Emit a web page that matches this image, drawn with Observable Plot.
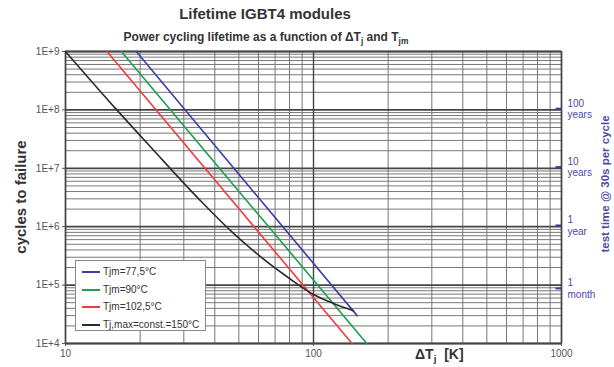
<!DOCTYPE html>
<html>
<head>
<meta charset="utf-8">
<script src="https://cdn.jsdelivr.net/npm/d3@7"></script>
<script src="https://cdn.jsdelivr.net/npm/@observablehq/plot@0.6"></script>
<style>
  html, body { margin: 0; padding: 0; background: #fff; }
  #wrap { position: relative; width: 614px; height: 367px; font-family: "Liberation Sans", Arial, sans-serif; overflow: hidden; }
  #wrap svg { position: absolute; left: 0; top: 0; }
  .abs { position: absolute; white-space: nowrap; }
  .title { left: 0; width: 530px; text-align: center; top: 5px; font-size: 15px; font-weight: bold; color: #333; }
  .subtitle { left: 0; width: 532px; text-align: center; top: 30px; font-size: 12px; font-weight: bold; color: #333; }
  sub { font-size: 70%; vertical-align: -3px; line-height: 0; }
  .ylab { left: 20px; top: 197px; transform: translate(-50%, -50%) rotate(-90deg); font-size: 15px; font-weight: bold; color: #333; }
  .rlab { left: 605px; top: 184px; transform: translate(-50%, -50%) rotate(-90deg); font-size: 11.5px; font-weight: bold; color: #4a4aa8; }
  .xlab { left: 415px; top: 346px; font-size: 14px; font-weight: bold; color: #333; }
  .legend { left: 75px; top: 260px; width: 131px; height: 71px; border: 1px solid #888; background: #fff; box-sizing: border-box; }
  .row { position: absolute; left: 0; height: 14px; font-size: 10px; color: #333; line-height: 14px; }
  .sw { position: absolute; left: 6px; top: 6px; width: 18px; height: 0; border-top: 2px solid; }
  .lt { position: absolute; left: 27px; top: 0; }
</style>
</head>
<body>
<div id="wrap"></div>
<script>
// ---- data ----
const seriesNames = ["Tjm=77,5°C", "Tjm=90°C", "Tjm=102,5°C", "Tj,max=const.=150°C"];
const seriesColors = ["#3d3da6", "#1d9e50", "#f03a3e", "#2b2b2b"];

const blueDT = [19.3, 150];
const blueN = [1e9, 3.0e4];
const greenDT = [16.8, 164];
const greenN = [1e9, 1e4];
const redDT = [14.7, 143];
const redN = [1e9, 1e4];
const blackDT = [10, 16.1, 22, 35, 46.3, 58.4, 80.8, 100, 120.4, 145];
const blackN = [1e9, 1e8, 2.34e7, 2.79e6, 8.55e5, 3.59e5, 1.26e5, 6.9e4, 4.84e4, 3.65e4];

const xTicks = [10, 100, 1000];
const yTicks = [1e4, 1e5, 1e6, 1e7, 1e8, 1e9];

// right axis: test time @ 30 s per cycle
const rightN = [1.05e8, 1.05e7, 1.05e6, 8.77e4];
const rightNum = ["100", "10", "1", "1"];
const rightUnit = ["years", "years", "year", "month"];

// ---- build tables ----
const seriesDT = [blueDT, greenDT, redDT, blackDT];
const seriesN = [blueN, greenN, redN, blackN];
const rows = [];
seriesNames.forEach((s, i) => seriesDT[i].forEach((dt, j) => rows.push({s, dT: dt, N: seriesN[i][j]})));

const xMinor = [];
for (let k = 0; k < xTicks.length - 1; k++) for (let m = 2; m <= 9; m++) xMinor.push(m * xTicks[k]);
const yMinor = [];
for (let k = 0; k < yTicks.length - 1; k++) for (let m = 2; m <= 9; m++) yMinor.push(m * yTicks[k]);

const chart = Plot.plot({
  width: 614,
  height: 367,
  marginLeft: 65,
  marginRight: 53,
  marginTop: 51,
  marginBottom: 24,
  x: {type: "log", domain: [10, 1000]},
  y: {type: "log", domain: [1e4, 1e9]},
  color: {domain: seriesNames, range: seriesColors},
  style: {fontFamily: "Liberation Sans, Arial, sans-serif", fontSize: "10px", color: "#555", background: "transparent"},
  marks: [
    Plot.ruleY(yMinor, {stroke: "#777", strokeWidth: 1}),
    Plot.ruleX(xMinor, {stroke: "#777", strokeWidth: 1}),
    Plot.ruleY(yTicks, {stroke: "#444", strokeWidth: 1.8}),
    Plot.ruleX(xTicks, {stroke: "#444", strokeWidth: 1.4}),
    Plot.frame({stroke: "#444", strokeWidth: 1.4}),
    Plot.axisY({ticks: yTicks, tickFormat: d => "1E+" + Math.round(Math.log10(d)), tickSize: 3, tickPadding: 3, label: null, fill: "#555"}),
    Plot.axisX({ticks: xTicks, tickFormat: d => String(d), tickSize: 3, tickPadding: 3, label: null, fill: "#555"}),
    Plot.line(rows, {x: "dT", y: "N", z: "s", stroke: "s", strokeWidth: 1.6, curve: "monotone-x"}),
    Plot.ruleY(rightN, {x1: 950, x2: 1000, stroke: "#3d3da6", strokeWidth: 2}),
    Plot.text(rightN, {x: () => 1000, y: d => d, text: (d, i) => rightNum[i] + "\n" + rightUnit[i], dx: 6, textAnchor: "start", fill: "#4a4aa8", fontSize: 10, lineHeight: 1.15})
  ]
});

const wrap = document.getElementById("wrap");
wrap.appendChild(chart);

function add(cls, html) {
  const d = document.createElement("div");
  d.className = "abs " + cls;
  d.innerHTML = html;
  wrap.appendChild(d);
  return d;
}
add("title", "Lifetime IGBT4 modules");
add("subtitle", "Power cycling lifetime as a function of ΔT<sub>j</sub> and T<sub>jm</sub>");
add("ylab", "cycles to failure");
add("rlab", "test time @ 30s per cycle");
add("xlab", "ΔT<sub>j</sub>&nbsp; [K]");

const leg = add("legend", "");
seriesNames.forEach((s, i) => {
  const r = document.createElement("div");
  r.className = "row";
  r.style.top = (4 + i * 17.7) + "px";
  r.innerHTML = `<span class="sw" style="border-color:${seriesColors[i]}"></span><span class="lt">${s}</span>`;
  leg.appendChild(r);
});
</script>
</body>
</html>
